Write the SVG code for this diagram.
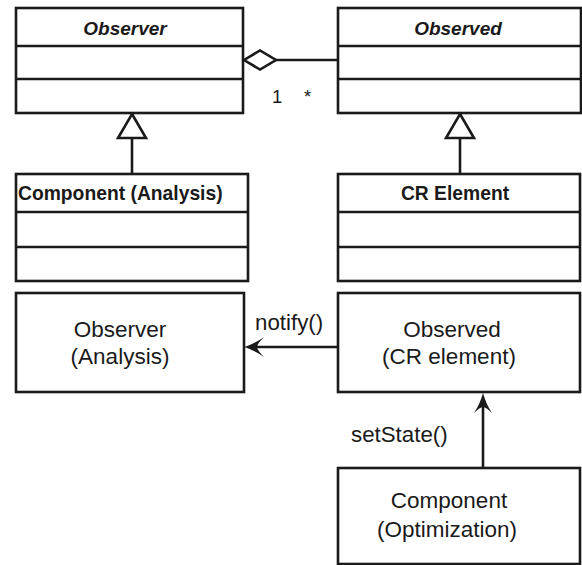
<svg xmlns="http://www.w3.org/2000/svg" width="582" height="565" viewBox="0 0 582 565">
  <style>
    .box { fill: #fff; stroke: #1a1a1a; stroke-width: 2.6; }
    .sep { stroke: #1a1a1a; stroke-width: 2.6; fill: none; }
    .line { stroke: #1a1a1a; stroke-width: 2.6; fill: none; }
    .head { fill: #1a1a1a; stroke: none; }
    .hollow { fill: #fff; stroke: #1a1a1a; stroke-width: 2.6; stroke-linejoin: miter; }
    text { font-family: "Liberation Sans", Arial, Helvetica, sans-serif; fill: #1a1a1a; }
    .abstract { font-size: 19px; font-weight: bold; font-style: italic; text-anchor: middle; }
    .cls { font-size: 19.3px; font-weight: bold; }
    .obj { font-size: 22.5px; text-anchor: middle; }
    .msg { font-size: 22.3px; }
    .mult { font-size: 18.5px; }
  </style>

  <!-- UML class diagram -->
  <g id="observer-class">
    <rect class="box" x="16" y="8" width="227" height="105"/>
    <line class="sep" x1="16" y1="46" x2="243" y2="46"/>
    <line class="sep" x1="16" y1="79" x2="243" y2="79"/>
    <text class="abstract" x="125" y="35">Observer</text>
  </g>

  <g id="observed-class">
    <rect class="box" x="338" y="8" width="243" height="105"/>
    <line class="sep" x1="338" y1="46" x2="581" y2="46"/>
    <line class="sep" x1="338" y1="79" x2="581" y2="79"/>
    <text class="abstract" x="458" y="35">Observed</text>
  </g>

  <g id="component-analysis-class">
    <rect class="box" x="16" y="174" width="232" height="107"/>
    <line class="sep" x1="16" y1="212" x2="248" y2="212"/>
    <line class="sep" x1="16" y1="247" x2="248" y2="247"/>
    <text class="cls" x="18" y="200">Component (Analysis)</text>
  </g>

  <g id="cr-element-class">
    <rect class="box" x="338" y="174" width="242" height="107"/>
    <line class="sep" x1="338" y1="212" x2="580" y2="212"/>
    <line class="sep" x1="338" y1="247" x2="580" y2="247"/>
    <text class="cls" x="455" y="200" text-anchor="middle">CR Element</text>
  </g>

  <!-- Object interaction -->
  <g id="observer-analysis">
    <rect class="box" x="16" y="293" width="228" height="99"/>
    <text class="obj" x="120" y="337">Observer</text>
    <text class="obj" x="120" y="364">(Analysis)</text>
  </g>

  <g id="observed-cr-element">
    <rect class="box" x="338" y="293" width="242" height="99"/>
    <text class="obj" x="452" y="337">Observed</text>
    <text class="obj" x="449" y="364">(CR element)</text>
  </g>

  <g id="component-optimization">
    <rect class="box" x="338" y="468" width="242" height="96"/>
    <text class="obj" x="449" y="508">Component</text>
    <text class="obj" x="447" y="537">(Optimization)</text>
  </g>

  <g id="connectors">
    <!-- aggregation between Observer (1) and Observed (many) -->
    <line class="line" x1="276" y1="60" x2="338" y2="60"/>
    <path class="hollow" d="M244,60 L260,50.5 L276,60 L260,69.5 Z"/>
    <text class="mult" x="272" y="103">1</text>
    <text class="mult" x="304" y="103">*</text>

    <!-- generalisation: Component (Analysis) to Observer -->
    <line class="line" x1="132" y1="138" x2="132" y2="174"/>
    <path class="hollow" d="M132,114 L146,138 L118,138 Z"/>

    <!-- generalisation: CR Element to Observed -->
    <line class="line" x1="460" y1="138" x2="460" y2="174"/>
    <path class="hollow" d="M460,114 L474,138 L446,138 Z"/>

    <!-- notify() -->
    <line class="line" x1="338" y1="347" x2="256" y2="347"/>
    <path class="head" d="M244.5,347 Q256,343 264,337 Q257,344 257,347 Q257,350 264,357 Q256,351 244.5,347 Z"/>
    <text class="msg" x="255" y="330">notify()</text>

    <!-- setState() -->
    <line class="line" x1="483" y1="468" x2="483" y2="405"/>
    <path class="head" d="M483,393 Q486,404 492,413 Q486,407 483,407 Q480,407 474,413 Q480,404 483,393 Z"/>
    <text class="msg" x="351" y="442">setState()</text>
  </g>
</svg>
